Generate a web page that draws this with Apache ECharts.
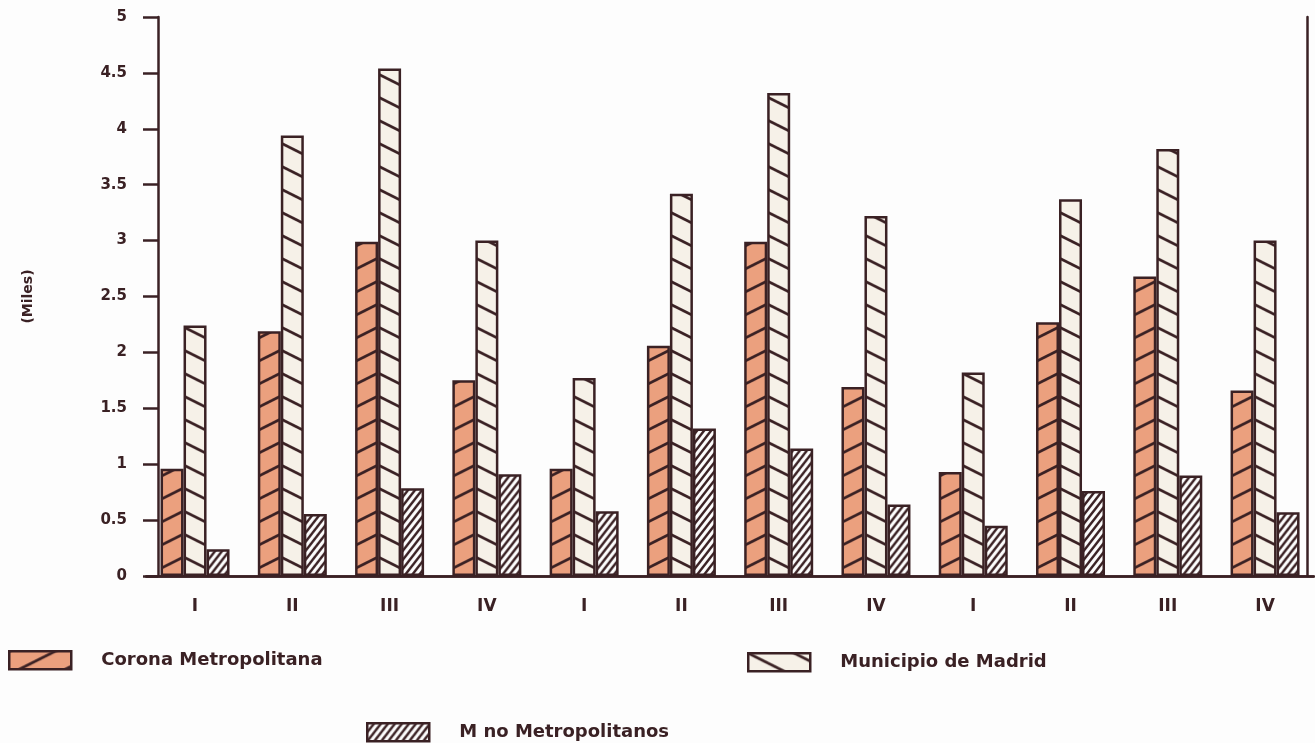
<!DOCTYPE html>
<html>
<head>
<meta charset="utf-8">
<script src="https://cdn.jsdelivr.net/npm/echarts@6/dist/echarts.min.js"></script>
<style>
  html, body { margin: 0; padding: 0; background: #fdfdfd; }
  #chart { width: 1315px; height: 743px; }
</style>
</head>
<body>
<div id="chart"></div>
<script>
// trimestres (3 años)
const quarters = ['I', 'II', 'III', 'IV', 'I', 'II', 'III', 'IV', 'I', 'II', 'III', 'IV'];
// miles
const corona = [0.96, 2.19, 2.99, 1.75, 0.96, 2.06, 2.99, 1.69, 0.93, 2.27, 2.68, 1.66];
const municipio = [2.24, 3.94, 4.54, 3.0, 1.77, 3.42, 4.32, 3.22, 1.82, 3.37, 3.82, 3.0];
const noMetro = [0.24, 0.555, 0.785, 0.91, 0.58, 1.32, 1.14, 0.64, 0.45, 0.76, 0.9, 0.57];

const seriesNames = ['Corona Metropolitana', 'Municipio de Madrid', 'M no Metropolitanos'];

const LINE = '#3a2124';
const SALMON = '#eba07e';
const CREAM = '#f6f1e8';
const PAPER = '#fdfdfd';
const BAR_W = 23;
const FONT = 'DejaVu Sans';

// tile con rayado diagonal; dir 1 = '/', -1 = '\'
function hatchTile(w, h, bg, dir, lw) {
  const c = document.createElement('canvas');
  c.width = w; c.height = h;
  const ctx = c.getContext('2d');
  ctx.fillStyle = bg;
  ctx.fillRect(0, 0, w, h);
  ctx.strokeStyle = LINE;
  ctx.lineWidth = lw;
  ctx.beginPath();
  for (let k = -1; k <= 1; k++) {
    if (dir > 0) {
      ctx.moveTo(-1, h + k * h + h / w);
      ctx.lineTo(w + 1, k * h - h / w);
    } else {
      ctx.moveTo(-1, k * h - h / w);
      ctx.lineTo(w + 1, h + k * h + h / w);
    }
  }
  ctx.stroke();
  return c;
}

const tileCorona = hatchTile(46, 23, SALMON, 1, 2.8);
const tileMuni = hatchTile(46, 23, CREAM, -1, 2.8);
const tileNo = hatchTile(7, 9, PAPER, 1, 2.4);

function pat(tile, x, y) {
  return { image: tile, repeat: 'repeat', x: x || 0, y: y || 0 };
}

const chart = echarts.init(document.getElementById('chart'));

function legendAt(name, left, top) {
  return {
    data: [name],
    left: left,
    top: top,
    padding: 0,
    itemWidth: 62,
    itemHeight: 18,
    icon: 'rect',
    selectedMode: false,
    itemStyle: { borderColor: LINE, borderWidth: 2.5 },
    textStyle: {
      fontFamily: FONT, fontSize: 18, fontWeight: 'bold', color: LINE,
      padding: [0, 0, 0, 25]
    }
  };
}

const base = {
  animation: false,
  backgroundColor: PAPER,
  grid: { left: 146.4, right: 1.3, top: 17, bottom: 167, containLabel: false },
  legend: [
    legendAt(seriesNames[0], 8, 650),
    legendAt(seriesNames[1], 747, 652),
    legendAt(seriesNames[2], 366, 722)
  ],
  xAxis: [
    {
      type: 'category',
      data: quarters,
      position: 'bottom',
      axisLine: { lineStyle: { color: LINE, width: 2.5 } },
      axisTick: { alignWithLabel: true, length: 8, lineStyle: { color: LINE, width: 2 } },
      axisLabel: { margin: 22, fontFamily: FONT, fontSize: 17, fontWeight: 'bold', color: LINE }
    },
    {
      type: 'category',
      data: quarters,
      position: 'top',
      axisLine: { lineStyle: { color: LINE, width: 2.5 } },
      axisTick: { show: false },
      axisLabel: { show: false }
    }
  ],
  yAxis: [
    {
      type: 'value',
      min: 0,
      max: 5,
      interval: 0.5,
      offset: -11.6,
      name: '(Miles)',
      nameLocation: 'middle',
      nameRotate: 90,
      nameGap: 123,
      nameTextStyle: { fontFamily: FONT, fontSize: 14, fontWeight: 'bold', color: LINE },
      splitLine: { show: false },
      axisLine: { show: true, lineStyle: { color: LINE, width: 2.5 } },
      axisTick: { show: true, length: 15, lineStyle: { color: LINE, width: 2.5 } },
      axisLabel: { margin: 31, fontFamily: FONT, fontSize: 15, fontWeight: 'bold', color: LINE }
    },
    {
      type: 'value',
      min: 0,
      max: 5,
      position: 'right',
      offset: -6.5,
      splitLine: { show: false },
      axisLine: { show: true, lineStyle: { color: LINE, width: 2.5 } },
      axisTick: { show: false },
      axisLabel: { show: false }
    }
  ],
  series: [
    {
      name: seriesNames[0], type: 'bar', barWidth: BAR_W, barGap: '0%',
      itemStyle: { color: pat(tileCorona), borderColor: LINE, borderWidth: 2.5 },
      data: corona
    },
    {
      name: seriesNames[1], type: 'bar', barWidth: BAR_W, barGap: '0%',
      itemStyle: { color: pat(tileMuni), borderColor: LINE, borderWidth: 2.5 },
      data: municipio
    },
    {
      name: seriesNames[2], type: 'bar', barWidth: BAR_W, barGap: '0%',
      itemStyle: { color: pat(tileNo), borderColor: LINE, borderWidth: 2.5 },
      data: noMetro
    }
  ]
};

chart.setOption(base);

// alinear el rayado para que formen chevrones en el borde común
const edges = quarters.map((q, i) => chart.convertToPixel({ xAxisIndex: 0 }, i) - BAR_W / 2);

chart.setOption({
  series: [
    { data: corona.map((v, i) => ({ value: v, itemStyle: { color: pat(tileCorona, edges[i], 580) } })) },
    { data: municipio.map((v, i) => ({ value: v, itemStyle: { color: pat(tileMuni, edges[i], 580) } })) },
    { data: noMetro.map((v, i) => ({ value: v, itemStyle: { color: pat(tileNo, edges[i] + BAR_W, 580) } })) }
  ]
});

window.addEventListener('resize', () => chart.resize());
</script>
</body>
</html>
